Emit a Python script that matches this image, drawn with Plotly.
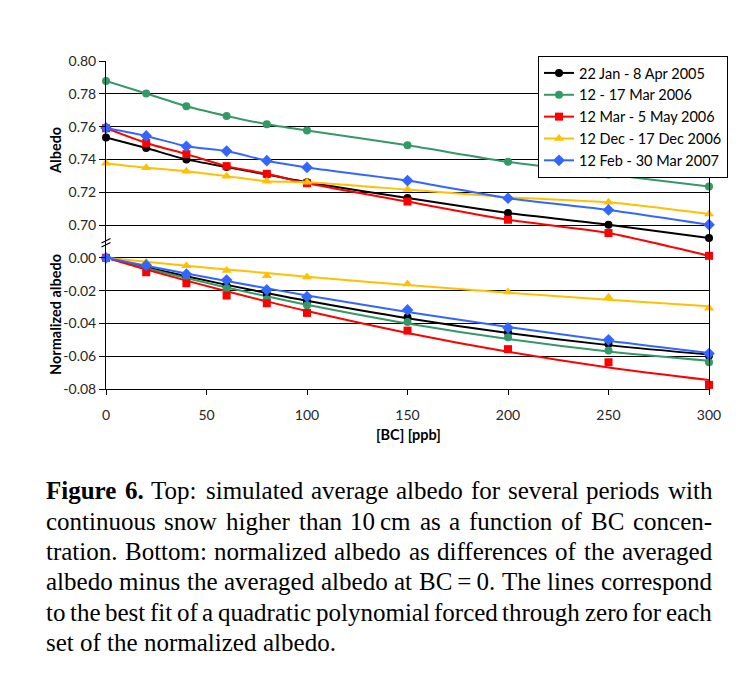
import numpy as np
import plotly.graph_objects as go

# ---------------- data ----------------
bc = [0, 20, 40, 60, 80, 100, 150, 200, 250, 300]

series_names = ["22 Jan - 8 Apr 2005", "12 - 17 Mar 2006", "12 Mar - 5 May 2006",
                "12 Dec - 17 Dec 2006", "12 Feb - 30 Mar 2007"]

alb_black = [0.7533, 0.7469, 0.7400, 0.7353, 0.7308, 0.7261, 0.7165, 0.7073, 0.7002, 0.6920]
alb_green = [0.7878, 0.7802, 0.7724, 0.7665, 0.7614, 0.7576, 0.7486, 0.7385, 0.7308, 0.7235]
alb_red = [0.7590, 0.7500, 0.7432, 0.7359, 0.7312, 0.7255, 0.7143, 0.7032, 0.6951, 0.6812]
alb_yellow = [0.7377, 0.7349, 0.7328, 0.7298, 0.7267, 0.7261, 0.7216, 0.7169, 0.7138, 0.7067]
alb_blue = [0.7592, 0.7543, 0.7480, 0.7451, 0.7392, 0.7351, 0.7271, 0.7163, 0.7092, 0.7002]

norm_black = [0, -0.0057, -0.0118, -0.0170, -0.0220, -0.0266, -0.0363, -0.0455, -0.0525, -0.0597]
norm_green = [0, -0.0065, -0.0130, -0.0185, -0.0252, -0.0290, -0.0391, -0.0485, -0.0565, -0.0637]
norm_red = [0, -0.0088, -0.0155, -0.0230, -0.0277, -0.0336, -0.0444, -0.0557, -0.0637, -0.0775]
norm_yellow = [0, -0.0027, -0.0048, -0.0078, -0.0109, -0.0117, -0.0159, -0.0209, -0.0240, -0.0308]
norm_blue = [0, -0.0045, -0.0100, -0.0136, -0.0196, -0.0237, -0.0318, -0.0427, -0.0500, -0.0584]

top_ticks = [0.70, 0.72, 0.74, 0.76, 0.78, 0.80]
bottom_ticks = [-0.08, -0.06, -0.04, -0.02, 0.00]
bottom_ticktext = ["-0.08", "-0.06", "-0.04", "-0.02", "0.00"]
x_ticks = [0, 50, 100, 150, 200, 250, 300]

caption_lines = [
    [("Figure", True), ("6.", True), ("Top:", False), ("simulated", False), ("average", False),
     ("albedo", False), ("for", False), ("several", False), ("periods", False), ("with", False)],
    "continuous snow higher than 10\u2009cm as a function of BC concen-",
    "tration. Bottom: normalized albedo as differences of the averaged",
    "albedo minus the averaged albedo at BC\u2009=\u20090. The lines correspond",
    "to the best fit of a quadratic polynomial forced through zero for each",
    "set of the normalized albedo.",
]

# ---------------- styles ----------------
colors = ["#000000", "#339966", "#FF0000", "#FFC000", "#3366FF"]
symbols = ["circle", "circle", "square", "triangle-up", "diamond"]
msizes = [8, 8, 8, 9, 9]
tops = [alb_black, alb_green, alb_red, alb_yellow, alb_blue]
norms = [norm_black, norm_green, norm_red, norm_yellow, norm_blue]

L, R, T, B = 106, 709, 61, 389
W, H = R - L, B - T


def px(x):
    return (x - L) / W


def py(y):
    return (B - y) / H


fig = go.Figure()

for name, c, s, ms, yv in zip(series_names, colors, symbols, msizes, tops):
    fig.add_trace(go.Scatter(
        x=bc, y=yv, name=name, mode="lines+markers",
        line=dict(color=c, width=2, shape="spline", smoothing=0.6),
        marker=dict(color=c, symbol=s, size=ms),
        cliponaxis=False, yaxis="y"))

# quadratic fit forced through zero for normalized albedo
xa = np.array(bc, dtype=float)
A = np.column_stack([xa, xa ** 2])
for name, c, s, ms, yv in zip(series_names, colors, symbols, msizes, norms):
    coef, *_ = np.linalg.lstsq(A, np.array(yv), rcond=None)
    fit = A @ coef
    fig.add_trace(go.Scatter(
        x=bc, y=fit, mode="lines", showlegend=False,
        line=dict(color=c, width=2, shape="spline"),
        cliponaxis=False, yaxis="y2", hoverinfo="skip"))
for name, c, s, ms, yv in zip(series_names, colors, symbols, msizes, norms):
    fig.add_trace(go.Scatter(
        x=bc, y=yv, mode="markers", showlegend=False,
        marker=dict(color=c, symbol=s, size=ms),
        cliponaxis=False, yaxis="y2"))

tick_font = dict(family="Lato", size=14, color="#262626")

fig.update_layout(
    width=740, height=684,
    margin=dict(l=L, r=740 - R, t=T, b=684 - B, pad=0),
    paper_bgcolor="white", plot_bgcolor="white",
    showlegend=True,
    xaxis=dict(range=[0, 300], tickvals=x_ticks, showgrid=False, zeroline=False,
               showline=True, linecolor="black", linewidth=1,
               ticks="outside", ticklen=5, tickcolor="black",
               tickfont=tick_font, ticklabelstandoff=8),
    yaxis=dict(range=[0.60, 0.80], tickvals=top_ticks, tickformat=".2f",
               showgrid=True, gridcolor="black", gridwidth=1, zeroline=False,
               showline=True, linecolor="black", linewidth=1, mirror=True,
               ticks="outside", ticklen=6, tickcolor="black", tickfont=tick_font),
    yaxis2=dict(range=[-0.08, 0.12], overlaying="y", side="left",
                tickvals=bottom_ticks, ticktext=bottom_ticktext,
                showgrid=True, gridcolor="black", gridwidth=1, zeroline=False,
                showline=False, ticks="outside", ticklen=6, tickcolor="black",
                tickfont=tick_font),
    legend=dict(x=px(538), y=py(56), xanchor="left", yanchor="top",
                bgcolor="white", bordercolor="black", borderwidth=1,
                font=dict(family="Lato", size=14.5, color="#000000"),
                itemwidth=30, tracegroupgap=0),
)

annotations = []
# axis titles
annotations.append(dict(text="<b>Albedo</b>", x=px(55), y=py(151), xref="paper", yref="paper",
                        textangle=-90, showarrow=False, xanchor="center", yanchor="middle",
                        font=dict(family="Lato", size=14.5, color="#000000")))
annotations.append(dict(text="<b>Normalized albedo</b>", x=px(55), y=py(315), xref="paper", yref="paper",
                        textangle=-90, showarrow=False, xanchor="center", yanchor="middle",
                        font=dict(family="Lato", size=14.5, color="#000000")))
annotations.append(dict(text="<b>[BC] [ppb]</b>", x=px(408), y=py(434), xref="paper", yref="paper",
                        showarrow=False, xanchor="center", yanchor="middle",
                        font=dict(family="Lato", size=14.5, color="#000000")))

# caption with justified lines (Times metrics)
reg = {' ': 250, ',': 250, '-': 333, '.': 250, ':': 278, '=': 564, '\u2009': 200}
for d in "0123456789":
    reg[d] = 500
reg.update(dict(A=722, B=667, C=667, D=722, E=611, F=556, G=722, H=722, I=333, J=389, K=722,
                L=611, M=889, N=722, O=722, P=556, Q=722, R=667, S=556, T=611, U=722, V=722,
                W=944, X=722, Y=722, Z=611))
reg.update(dict(a=444, b=500, c=444, d=500, e=444, f=333, g=500, h=500, i=278, j=278, k=500,
                l=278, m=778, n=500, o=500, p=500, q=500, r=333, s=389, t=278, u=500, v=500,
                w=722, x=500, y=500, z=444))
bold = dict(reg)
bold.update(dict(F=611, u=556, r=444))

FS = 25
cap_left, cap_right = 46, 712
cap_y = [490, 521, 551, 581, 612, 642]


def width(word, isbold):
    tab = bold if isbold else reg
    return sum(tab.get(ch, 500) for ch in word) * FS / 1000.0


for li, line in enumerate(caption_lines):
    if isinstance(line, str):
        toks = [(w_, False) for w_ in line.split(" ")]
    else:
        toks = line
    widths = [width(w_, b_) for w_, b_ in toks]
    if li < len(caption_lines) - 1:
        gap = (cap_right - cap_left - sum(widths)) / (len(toks) - 1)
    else:
        gap = 250 * FS / 1000.0
    xpos = cap_left
    for (w_, b_), wd in zip(toks, widths):
        txt = "<b>%s</b>" % w_ if b_ else w_
        annotations.append(dict(text=txt, x=px(xpos), y=py(cap_y[li]), xref="paper", yref="paper",
                                showarrow=False, xanchor="left", yanchor="middle",
                                borderpad=0, borderwidth=0,
                                font=dict(family="Liberation Serif", size=FS, color="#000000")))
        xpos += wd + gap

fig.update_layout(annotations=annotations)

# axis break mark
shapes = []
for yy in (243, 247):
    shapes.append(dict(type="line", xref="paper", yref="paper",
                       x0=px(101.5), y0=py(yy), x1=px(110.5), y1=py(yy - 4.5),
                       line=dict(color="black", width=1.2)))
fig.update_layout(shapes=shapes)

fig.write_html("out.html")
